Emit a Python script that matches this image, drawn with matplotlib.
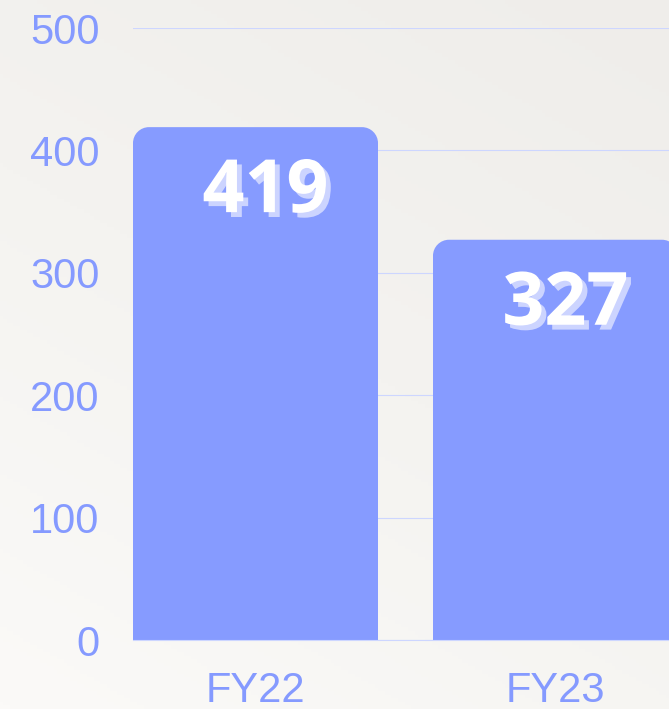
import numpy as np
import matplotlib
matplotlib.use('Agg')
import matplotlib.pyplot as plt
import matplotlib.patheffects as pe
from matplotlib.path import Path
from matplotlib.patches import PathPatch
from matplotlib.colors import LinearSegmentedColormap

years = ['FY22', 'FY23']
values = [419, 327]
yticks = [0, 100, 200, 300, 400, 500]

bar_col = '#869bff'
txt_col = '#859aff'
grid_col = '#cdd6ff'

W, H = 669, 709
fig = plt.figure(figsize=(W / 100, H / 100), dpi=100)

# soft background wash
bg = fig.add_axes([0, 0, 1, 1], zorder=-1)
gx, gy = np.meshgrid(np.linspace(0, 1, 200), np.linspace(0, 1, 200))
grad = np.clip(0.65 * gy + 0.35 * gx, 0, 1)
cmap = LinearSegmentedColormap.from_list('bg', ['#fbfaf8', '#f4f3f0', '#efedea'])
bg.imshow(grad, cmap=cmap, origin='lower', extent=[0, 1, 0, 1], aspect='auto')
bg.axis('off')

ax_l, ax_b, ax_t = 133, 640, 28
ax = fig.add_axes([ax_l / W, (H - ax_b) / H, (W - ax_l) / W, (ax_b - ax_t) / H])
ax.set_facecolor('none')

width = 245 / 300
x = np.arange(len(years))
ax.set_xlim(-width / 2, -width / 2 + (W - ax_l) / 300)
ax.set_ylim(0, 500)

# rounded top corners, radius in pixels
px_x = 300.0
px_y = (ax_b - ax_t) / 500.0
r = 16
rx, ry = r / px_x, r / px_y
k = 0.5523
for xi, v in zip(x, values):
    x0, x1 = xi - width / 2, xi + width / 2
    verts = [(x0, 0), (x0, v - ry),
             (x0, v - ry + k * ry), (x0 + rx - k * rx, v), (x0 + rx, v),
             (x1 - rx, v),
             (x1 - rx + k * rx, v), (x1, v - ry + k * ry), (x1, v - ry),
             (x1, 0), (x0, 0)]
    codes = [Path.MOVETO, Path.LINETO,
             Path.CURVE4, Path.CURVE4, Path.CURVE4,
             Path.LINETO,
             Path.CURVE4, Path.CURVE4, Path.CURVE4,
             Path.LINETO, Path.CLOSEPOLY]
    ax.add_patch(PathPatch(Path(verts, codes), facecolor=bar_col,
                           edgecolor='none', zorder=3, clip_on=False))
    ax.annotate(str(v), xy=(xi, v), xytext=(10, -66), textcoords='offset pixels',
                ha='center', va='center', color='white', fontsize=53,
                fontweight='bold', family='Open Sans', zorder=5,
                path_effects=[pe.withSimplePatchShadow(offset=(3.5, -3.5),
                                                       shadow_rgbFace='#ccd4ff',
                                                       alpha=1.0)])

ax.set_yticks(yticks)
ax.set_yticklabels([str(t) for t in yticks])
ax.set_xticks(x)
ax.set_xticklabels(years)
ax.yaxis.grid(True, color=grid_col, linewidth=0.8, zorder=0)
ax.set_axisbelow(True)
for s in ['top', 'right', 'left']:
    ax.spines[s].set_visible(False)
ax.spines['bottom'].set_color(grid_col)
ax.spines['bottom'].set_zorder(4)
ax.tick_params(axis='both', length=0, labelcolor=txt_col, labelsize=30)
ax.tick_params(axis='y', pad=24)
ax.tick_params(axis='x', pad=22)
for lab in ax.get_xticklabels() + ax.get_yticklabels():
    lab.set_family('Liberation Sans')

fig.savefig('out.png', dpi=100)
